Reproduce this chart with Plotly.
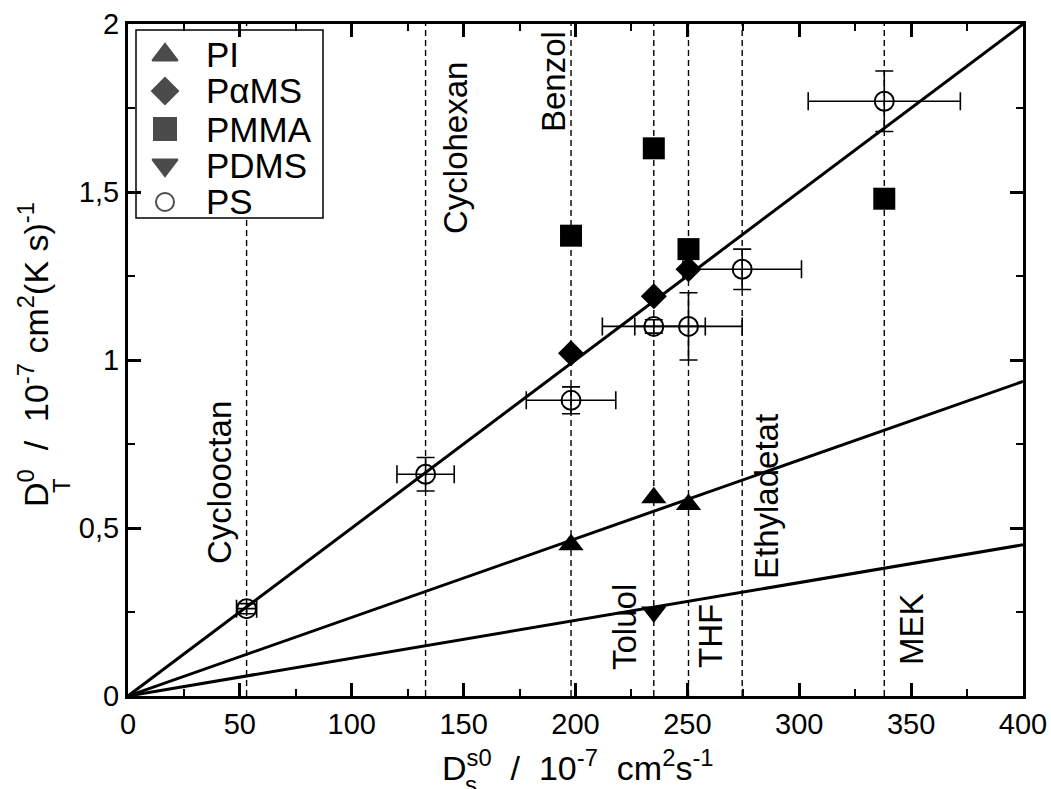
import plotly.graph_objects as go

FONT = "Liberation Sans, Arial, Helvetica, sans-serif"

# Solvents: self-diffusion coefficient D_s^s0 (10^-7 cm^2/s)
solvents = ["Cyclooctan", "Cyclohexan", "Benzol", "Toluol", "THF", "Ethyladetat", "MEK"]
solvent_ds = [53, 133, 198, 235, 250.5, 274.5, 338]

# Thermal diffusion coefficients D_T^0 (10^-7 cm^2/(K s)) per polymer
pi_x = [198, 235, 250.5]
pi_y = [0.45, 0.59, 0.57]

pams_x = [198, 235, 250.5]
pams_y = [1.02, 1.19, 1.27]

pmma_x = [198, 235, 250.5, 338]
pmma_y = [1.37, 1.63, 1.33, 1.48]

pdms_x = [235]
pdms_y = [0.25]

ps_x = [53, 133, 198, 235, 250.5, 274.5, 338]
ps_y = [0.26, 0.66, 0.88, 1.10, 1.10, 1.27, 1.77]
ps_xerr = [4.5, 12.8, 20, 23, 24, 26.5, 34]
ps_yerr = [0.015, 0.05, 0.04, 0.02, 0.10, 0.06, 0.09]

# Proportional fits D_T^0 = k * D_s^s0
fit_slopes = [0.005, 0.00234, 0.001125]
fit_range = [0, 400]

legend_names = ["PI", "P\u03b1MS", "PMMA", "PDMS", "PS"]

# ---- layout geometry (pixels) ----
W, H = 1051, 789
L, R, T, B = 128, 28, 24, 93
PW, PH = W - L - R, H - T - B


def px_x(p):
    return (p - L) / PW


def px_y(p):
    return (H - B - p) / PH


fig = go.Figure()

# fit lines
for k in fit_slopes:
    fig.add_trace(go.Scatter(
        x=fit_range, y=[k * v for v in fit_range], mode="lines",
        line=dict(color="black", width=3), showlegend=False, hoverinfo="skip"))

mk_line = dict(width=0, color="black")
fig.add_trace(go.Scatter(x=pi_x, y=pi_y, mode="markers", name=legend_names[0],
                         marker=dict(symbol="triangle-up", size=22, color="black", line=mk_line)))
fig.add_trace(go.Scatter(x=pams_x, y=pams_y, mode="markers", name=legend_names[1],
                         marker=dict(symbol="diamond", size=20, color="black", line=mk_line)))
fig.add_trace(go.Scatter(x=pmma_x, y=pmma_y, mode="markers", name=legend_names[2],
                         marker=dict(symbol="square", size=22, color="black", line=mk_line)))
fig.add_trace(go.Scatter(x=pdms_x, y=pdms_y, mode="markers", name=legend_names[3],
                         marker=dict(symbol="triangle-down", size=22, color="black", line=mk_line)))
fig.add_trace(go.Scatter(
    x=ps_x, y=ps_y, mode="markers", name=legend_names[4],
    marker=dict(symbol="circle-open", size=19, color="black", line=dict(width=2, color="black")),
    error_x=dict(type="data", array=ps_xerr, color="black", thickness=1.6, width=9),
    error_y=dict(type="data", array=ps_yerr, color="black", thickness=1.6, width=9)))

# custom legend on an overlay axis spanning the plot area (0..1)
leg_rows = [55, 91, 129, 165, 202]
leg_sym = ["triangle-up", "diamond", "square", "triangle-down", "circle-open"]
leg_size = [22, 20, 22, 22, 18]
fig.add_trace(go.Scatter(
    x=[px_x(165)] * 5, y=[px_y(r) for r in leg_rows], mode="markers",
    xaxis="x2", yaxis="y2", showlegend=False, hoverinfo="skip",
    marker=dict(symbol=leg_sym, size=leg_size, color="black",
                line=dict(width=2, color="black"))))

shapes = []
for xv in solvent_ds:
    shapes.append(dict(type="line", xref="x", yref="y", x0=xv, x1=xv, y0=0, y1=2,
                       line=dict(color="black", width=1.4, dash="6px,4px"), layer="below"))
shapes.append(dict(type="rect", xref="x2", yref="y2",
                   x0=px_x(136), x1=px_x(323), y0=px_y(218), y1=px_y(30),
                   line=dict(color="black", width=1.5), fillcolor="white", layer="below"))

annotations = []
for name, r in zip(legend_names, leg_rows):
    annotations.append(dict(text=name, xref="paper", yref="paper", x=px_x(204), y=px_y(r),
                            xanchor="left", yanchor="middle", showarrow=False,
                            font=dict(family=FONT, size=35, color="black")))

# solvent labels (rotated), pixel centres
label_px = [(219, 483), (455, 148), (553, 82), (624, 627), (710, 636), (766, 497), (911, 629)]
for name, (lx, ly) in zip(solvents, label_px):
    annotations.append(dict(text=name, xref="paper", yref="paper", x=px_x(lx), y=px_y(ly),
                            xanchor="center", yanchor="middle", textangle=-90, showarrow=False,
                            font=dict(family=FONT, size=33, color="black")))

NB = "\u00a0"
# x axis title
annotations.append(dict(
    text="D<sup>s0</sup>" + NB * 2 + "/" + NB * 2 + "10<sup>-7</sup>" + NB * 2 + "cm<sup>2</sup>s<sup>-1</sup>",
    xref="paper", yref="paper", x=px_x(440), y=px_y(765), xanchor="left", yanchor="middle",
    showarrow=False, font=dict(family=FONT, size=34, color="black")))
annotations.append(dict(text="s", xref="paper", yref="paper", x=px_x(463), y=px_y(784),
                        xanchor="left", yanchor="middle", showarrow=False,
                        font=dict(family=FONT, size=24, color="black")))
# y axis title
annotations.append(dict(
    text="D<sup>0</sup>" + NB * 2 + "/" + NB * 2 + "10<sup>-7</sup>" + NB + "cm<sup>2</sup>(K s)<sup>-1</sup>",
    xref="paper", yref="paper", x=px_x(33), y=px_y(355), xanchor="center", yanchor="middle",
    textangle=-90, showarrow=False, font=dict(family=FONT, size=34, color="black")))
annotations.append(dict(text="T", xref="paper", yref="paper", x=px_x(61), y=px_y(486),
                        xanchor="center", yanchor="middle", textangle=-90, showarrow=False,
                        font=dict(family=FONT, size=24, color="black")))

axis_common = dict(
    ticks="inside", ticklen=13, tickwidth=2.5, tickcolor="black",
    showline=True, linewidth=3, linecolor="black", mirror="ticks",
    showgrid=False, zeroline=False, automargin=False,
    tickfont=dict(family=FONT, size=29, color="black"),
)

fig.update_layout(
    width=W, height=H, margin=dict(l=L, r=R, t=T, b=B),
    paper_bgcolor="white", plot_bgcolor="white",
    separators=",.",
    showlegend=False,
    font=dict(family=FONT, color="black"),
    xaxis=dict(range=[0, 400], tick0=0, dtick=50,
               minor=dict(dtick=25, ticks="inside", ticklen=7, tickwidth=2, tickcolor="black"),
               **axis_common),
    yaxis=dict(range=[0, 2], tick0=0, dtick=0.5,
               minor=dict(dtick=0.25, ticks="inside", ticklen=7, tickwidth=2, tickcolor="black"),
               **axis_common),
    xaxis2=dict(overlaying="x", range=[0, 1], visible=False),
    yaxis2=dict(overlaying="y", range=[0, 1], visible=False),
    shapes=shapes,
    annotations=annotations,
)

fig.write_html("out.html")
